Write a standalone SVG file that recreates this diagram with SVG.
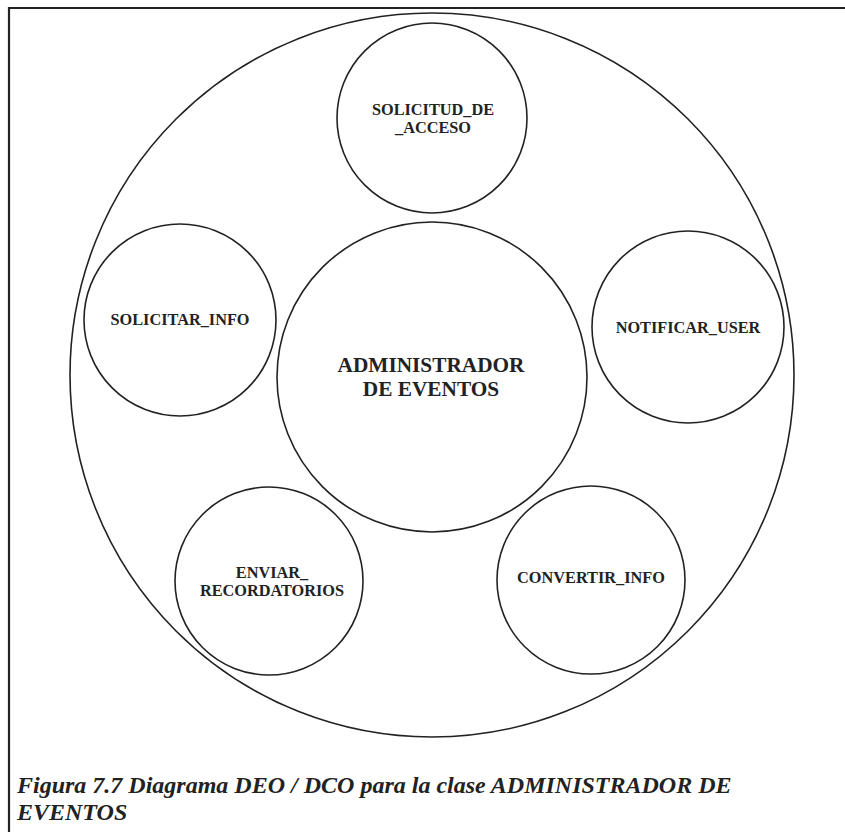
<svg xmlns="http://www.w3.org/2000/svg" width="845" height="832" viewBox="0 0 845 832">
<style>
.c{fill:none;stroke:#222;stroke-width:1.6}
.t{font-family:"Liberation Serif","Times New Roman",serif;font-weight:bold;fill:#222;text-anchor:middle}
.s{font-size:16.3px}
.cap{font-family:"Liberation Serif","Times New Roman",serif;font-weight:bold;font-style:italic;font-size:24px;fill:#222}
</style>
<rect width="845" height="832" fill="#fff"/>
<path d="M9,832 V8 H845" fill="none" stroke="#222" stroke-width="2.2"/>
<g id="outer"><circle class="c" cx="432" cy="375" r="362"/></g>
<g id="solicitud_de_acceso">
<circle class="c" cx="432" cy="118" r="95"/>
<text class="t s" x="433" y="115">SOLICITUD_DE</text>
<text class="t s" x="433" y="133">_ACCESO</text>
</g>
<g id="administrador">
<circle class="c" cx="432" cy="377" r="155"/>
<text class="t" font-size="21.3" x="431" y="372">ADMINISTRADOR</text>
<text class="t" font-size="21.3" x="431" y="396">DE EVENTOS</text>
</g>
<g id="solicitar_info">
<circle class="c" cx="180" cy="320" r="96"/>
<text class="t s" x="180" y="325">SOLICITAR_INFO</text>
</g>
<g id="notificar_user">
<circle class="c" cx="688" cy="327" r="96"/>
<text class="t s" x="688" y="333">NOTIFICAR_USER</text>
</g>
<g id="enviar_recordatorios">
<circle class="c" cx="269" cy="581" r="94"/>
<text class="t s" x="272" y="578">ENVIAR_</text>
<text class="t s" x="272" y="596">RECORDATORIOS</text>
</g>
<g id="convertir_info">
<circle class="c" cx="591" cy="580" r="94"/>
<text class="t s" x="591" y="583">CONVERTIR_INFO</text>
</g>
<g id="connectors"></g>
<text class="cap" x="17" y="793">Figura 7.7 Diagrama DEO / DCO para la clase ADMINISTRADOR DE</text>
<text class="cap" x="17" y="820">EVENTOS</text>
</svg>
